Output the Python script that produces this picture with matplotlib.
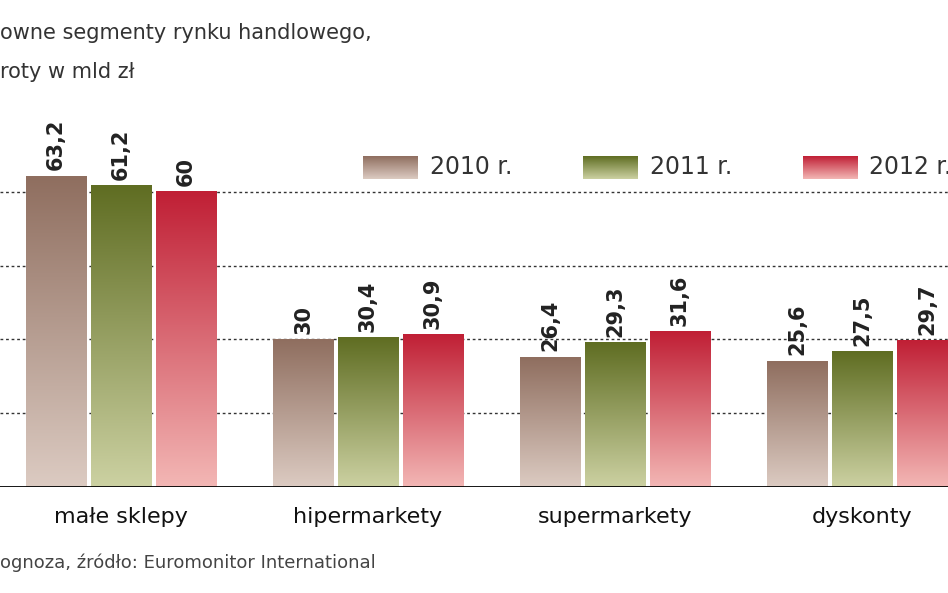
import numpy as np
import matplotlib.pyplot as plt
from matplotlib.colors import LinearSegmentedColormap

categories = ["małe sklepy", "hipermarkety", "supermarkety", "dyskonty"]
years = ["2010 r.", "2011 r.", "2012 r."]
v2010 = [63.2, 30, 26.4, 25.6]
v2011 = [61.2, 30.4, 29.3, 27.5]
v2012 = [60, 30.9, 31.6, 29.7]
labels2010 = ["63,2", "30", "26,4", "25,6"]
labels2011 = ["61,2", "30,4", "29,3", "27,5"]
labels2012 = ["60", "30,9", "31,6", "29,7"]

series = [v2010, v2011, v2012]
series_labels = [labels2010, labels2011, labels2012]
grads = [("#8f6e5f", "#dccbc2"), ("#5f6d22", "#ccd1a2"), ("#c01f35", "#f3b7b5")]

fig = plt.figure(figsize=(9.48, 5.93), dpi=100)
ax = fig.add_axes([0, 106 / 593, 1, 487 / 593])
ax.set_xlim(-0.49, 3.348)
ax.set_ylim(0, 99)
ax.axis("off")

w = 0.243
off = 0.263
grad = np.linspace(0, 1, 256).reshape(-1, 1)
for si, (vals, labs) in enumerate(zip(series, series_labels)):
    cmap = LinearSegmentedColormap.from_list("g", [grads[si][1], grads[si][0]])
    for ci, (v, lab) in enumerate(zip(vals, labs)):
        x0 = ci + (si - 1) * off - w / 2
        ax.imshow(grad, cmap=cmap, extent=[x0, x0 + w, 0, v], origin="lower",
                  aspect="auto", zorder=2)
        ax.text(x0 + w / 2, v + 1.2, lab, rotation=90, ha="center", va="bottom",
                fontsize=15, fontweight="bold", color="#222222", zorder=3)

for g in [15, 30, 45, 60]:
    ax.axhline(g, color="#333333", lw=1, ls=(0, (2, 2)), zorder=1)
ax.axhline(0, color="black", lw=2, zorder=4)

# legend
for si, name in enumerate(years):
    lx = 0.98 + si * 0.89
    cmap = LinearSegmentedColormap.from_list("g", [grads[si][1], grads[si][0]])
    ax.imshow(grad, cmap=cmap, extent=[lx, lx + 0.22, 62.7, 67.3], origin="lower",
              aspect="auto", zorder=2)
    ax.text(lx + 0.27, 65, name, va="center", ha="left", fontsize=17, color="#333333")

for ci, c in enumerate(categories):
    fig.text((121 + ci * 247) / 948, 1 - 517 / 593, c, ha="center", va="center",
             fontsize=16, color="#111111")

fig.text(0, 1 - 33 / 593, "owne segmenty rynku handlowego,", fontsize=15,
         color="#333333", va="center")
fig.text(0, 1 - 72 / 593, "roty w mld zł", fontsize=15, color="#333333", va="center")
fig.text(0, 1 - 563 / 593, "ognoza, źródło: Euromonitor International", fontsize=13,
         color="#444444", va="center")

fig.savefig("out.png", dpi=100)
